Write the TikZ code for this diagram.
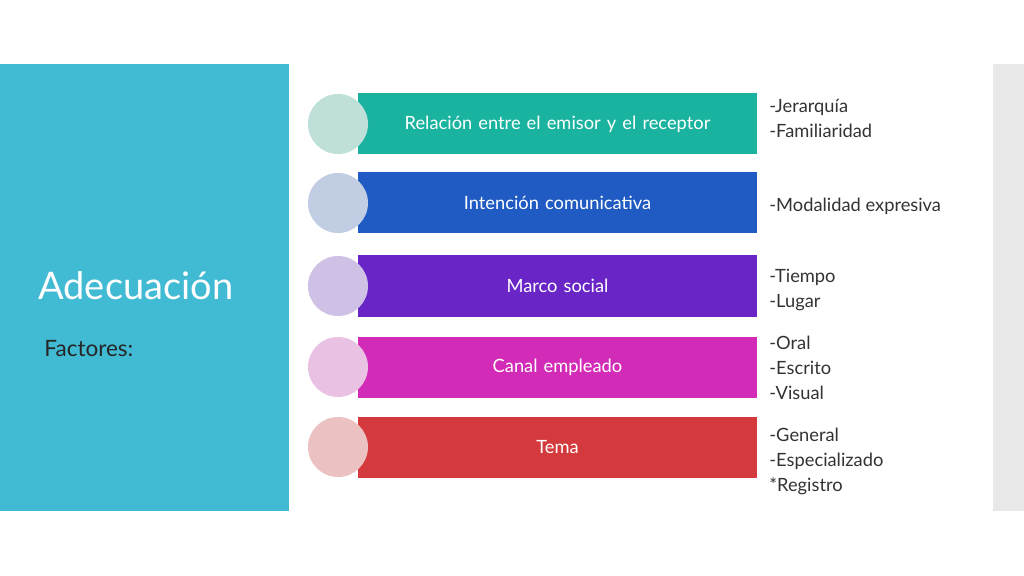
\documentclass[tikz,border=0pt]{standalone}
\usepackage{fontspec}
\setmainfont{Lato}
\usetikzlibrary{positioning}
\definecolor{panelblue}{HTML}{41BAD3}
\definecolor{stripgray}{HTML}{E8E8E8}
\definecolor{barA}{HTML}{1AB39F}\definecolor{dotA}{HTML}{BEE0D9}
\definecolor{barB}{HTML}{1F5BC2}\definecolor{dotB}{HTML}{C0CDE3}
\definecolor{barC}{HTML}{6A25C7}\definecolor{dotC}{HTML}{CFC1E5}
\definecolor{barD}{HTML}{D22BB7}\definecolor{dotD}{HTML}{E9C1E3}
\definecolor{barE}{HTML}{D4393D}\definecolor{dotE}{HTML}{EBC1C1}
\begin{document}
\begin{tikzpicture}[x=0.01cm,y=-0.01cm,
	bar/.style={rectangle,minimum width=399*0.01cm,minimum height=61*0.01cm,inner sep=0pt,
		text=white,font=\fontsize{5.2}{6}\selectfont,text width=3.2cm,align=center,xshift=0.18cm},
	dot/.style={circle,minimum size=60*0.01cm,inner sep=0pt},
	side/.style={anchor=west,align=left,font=\fontsize{5.2}{7.1}\selectfont,text=black!80}]
	\useasboundingbox (0,0) rectangle (1024,576);
	
	% fondo
	\fill[panelblue] (0,64) rectangle (289,511);
	\fill[stripgray] (993,64) rectangle (1024,511);
	\node[anchor=west,text=white,font=\fontsize{10.8}{12}\selectfont] (title) at (26,286) {Adecuación};
	\node[anchor=west,text=black!85,font=\fontsize{6.4}{7}\selectfont] (factores) at (32,349) {Factores:};
	
	% barras
	\node[bar,fill=barA] (relacion) at (539.5,124) {Relación entre el emisor y el receptor};
	\node[bar,fill=barB] (intencion) at (539.5,203) {Intención comunicativa};
	\node[bar,fill=barC] (marco) at (539.5,286) {Marco social};
	\node[bar,fill=barD] (canal) at (539.5,367) {Canal empleado};
	\node[bar,fill=barE] (tema) at (539.5,447) {Tema};
	
	% circulos
	\node[dot,fill=dotA] (c1) at (338,124) {};
	\node[dot,fill=dotB] (c2) at (338,203) {};
	\node[dot,fill=dotC] (c3) at (338,286) {};
	\node[dot,fill=dotD] (c4) at (338,367) {};
	\node[dot,fill=dotE] (c5) at (338,447) {};
	
	% textos de la derecha
	\node[side] (l1) at (757,118) {-Jerarquía\\-Familiaridad};
	\node[side] (l2) at (757,206) {-Modalidad expresiva};
	\node[side] (l3) at (757,290) {-Tiempo\\-Lugar};
	\node[side] (l4) at (757,368) {-Oral\\-Escrito\\-Visual};
	\node[side] (l5) at (757,461) {-General\\-Especializado\\*Registro};
\end{tikzpicture}
\end{document}
